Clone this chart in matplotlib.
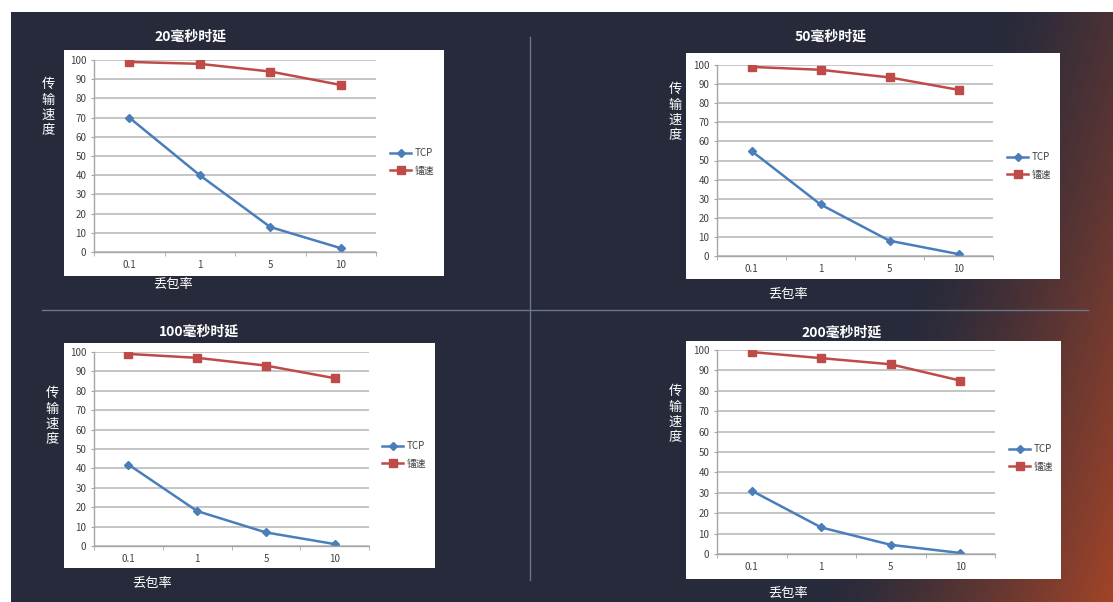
import numpy as np
import matplotlib
matplotlib.use("Agg")
import matplotlib.pyplot as plt
from matplotlib.patches import Rectangle

plt.rcParams['font.family'] = ['Noto Sans CJK SC', 'DejaVu Sans']

# data
loss_rates = ["0.1", "1", "5", "10"]
titles = ["20毫秒时延", "50毫秒时延", "100毫秒时延", "200毫秒时延"]
tcp_20 = [70, 40, 13, 2]
ray_20 = [99, 98, 94, 87]
tcp_50 = [55, 27, 8, 1]
ray_50 = [99, 97.5, 93.5, 87]
tcp_100 = [42, 18, 7, 1]
ray_100 = [99, 97, 93, 86.5]
tcp_200 = [31, 13, 4.5, 0.5]
ray_200 = [99, 96, 93, 85]
tcp_series = [tcp_20, tcp_50, tcp_100, tcp_200]
ray_series = [ray_20, ray_50, ray_100, ray_200]

W, H = 1113, 602

# layout in pixels: white box, plot area (x0, x1, y_top, y_bottom), title, ylabel, xlabel, legend
panels = [
    dict(box=(64, 50, 444, 276), plot=(94, 376, 60, 252), title=(190, 37),
         ylab=(48, 108), xlab=(173, 284), leg=(390, 162)),
    dict(box=(686, 53, 1060, 279), plot=(717, 993, 65, 256), title=(831, 37),
         ylab=(675, 113), xlab=(788, 294), leg=(1007, 166)),
    dict(box=(64, 343, 435, 568), plot=(94, 369, 352, 546), title=(199, 332),
         ylab=(52, 417), xlab=(152, 583), leg=(382, 455)),
    dict(box=(686, 341, 1061, 579), plot=(717, 995, 350, 554), title=(842, 333),
         ylab=(675, 415), xlab=(788, 593), leg=(1009, 458)),
]

fig = plt.figure(figsize=(W / 100, H / 100), dpi=100)

# background: dark navy fading into orange-brown in the lower right corner
bg = fig.add_axes([0, 0, 1, 1], zorder=0)
yy, xx = np.mgrid[0:H, 0:W]
f = np.clip(0.79 * (xx - 880) / 233 + 0.62 * yy / H - 0.41, 0, 1) ** 1.3
navy = np.array([38, 42, 59]) / 255
rust = np.array([163, 68, 40]) / 255
img = navy[None, None, :] * (1 - f[..., None]) + rust[None, None, :] * f[..., None]
img[:12, :, :] = 1
img[:, :11, :] = 1
bg.imshow(img, extent=(0, W, H, 0), aspect="auto", interpolation="bilinear")
bg.set_xlim(0, W)
bg.set_ylim(H, 0)
bg.axis("off")

# divider lines
bg.plot([530, 530], [37, 580], color="#6c7586", lw=1)
bg.plot([42, 1088], [310, 310], color="#6c7586", lw=1)

x = np.arange(len(loss_rates))
for p, title, tcp, ray in zip(panels, titles, tcp_series, ray_series):
    bx0, by0, bx1, by1 = p["box"]
    bg.add_patch(Rectangle((bx0, by0), bx1 - bx0, by1 - by0,
                           facecolor="white", edgecolor="none"))
    bg.text(*p["title"], title, ha="center", va="center", color="white",
            fontsize=10, fontweight="bold")
    bg.text(*p["ylab"], "\n".join("传输速度"), ha="center", va="center",
            color="white", fontsize=9.5, linespacing=1.25)
    bg.text(*p["xlab"], "丢包率", ha="center", va="center", color="white",
            fontsize=9.5)

    px0, px1, py_top, py_bot = p["plot"]
    ax = fig.add_axes([px0 / W, 1 - py_bot / H, (px1 - px0) / W, (py_bot - py_top) / H],
                      zorder=1)
    ax.patch.set_visible(False)
    ax.plot(x, tcp, color="#4a7ebb", lw=1.8, marker="D", ms=4.5, label="TCP")
    ax.plot(x, ray, color="#be4b48", lw=1.8, marker="s", ms=6, label="镭速")
    ax.set_xlim(-0.5, 3.5)
    ax.set_ylim(0, 100)
    ax.set_yticks(range(0, 101, 10))
    ax.yaxis.grid(True, color="#c0c0c0", lw=1.3)
    ax.set_axisbelow(True)
    ax.set_xticks(x)
    ax.set_xticklabels(loss_rates)
    ax.set_xticks(np.arange(-0.5, 4, 1), minor=True)
    ax.tick_params(axis="x", which="major", length=0, pad=6,
                   labelsize=7, labelcolor="#404040")
    ax.tick_params(axis="x", which="minor", length=3, color="#a6a6a6")
    ax.tick_params(axis="y", length=2.5, color="#a6a6a6", pad=3,
                   labelsize=7, labelcolor="#404040")
    for s in ["top", "right"]:
        ax.spines[s].set_visible(False)
    for s in ["left", "bottom"]:
        ax.spines[s].set_color("#a6a6a6")
        ax.spines[s].set_linewidth(1)

    lx, ly = p["leg"]
    ax.legend(loc="center left", bbox_to_anchor=(lx / W, 1 - ly / H),
              bbox_transform=fig.transFigure, frameon=False, fontsize=7,
              handlelength=2.2, handletextpad=0.3, labelspacing=0.8,
              borderpad=0, borderaxespad=0, labelcolor="#404040")

fig.savefig("out.png", dpi=100)
